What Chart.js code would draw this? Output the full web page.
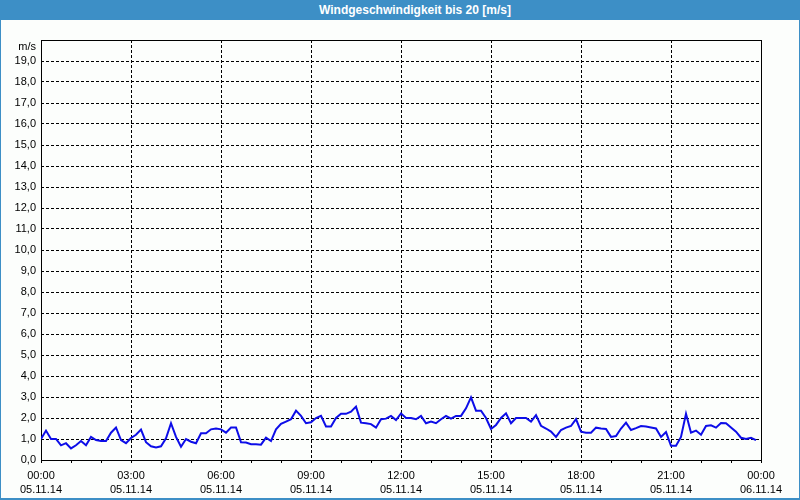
<!DOCTYPE html>
<html>
<head>
<meta charset="utf-8">
<script src="https://cdn.jsdelivr.net/npm/chart.js@4/dist/chart.umd.min.js"></script>
<style>
    body { margin: 0; }
    #rahmen {
        width: 800px; height: 500px; box-sizing: border-box;
        border-left: 1px solid #3d8fc6; border-right: 1px solid #3d8fc6; border-bottom: 2px solid #3d8fc6;
        background: #fcfefc; position: relative;
    }
    #titel {
        height: 20px; margin: 0 -1px; background: #3d8fc6; color: #fff;
        font: bold 12px "Liberation Sans", Arial, sans-serif; line-height: 20px;
        text-align: center; padding-left: 30px;
    }
    canvas { display: block; }
</style>
</head>
<body>
<div id="rahmen">
    <div id="titel">Windgeschwindigkeit bis 20 [m/s]</div>
    <canvas id="grafik" width="798" height="478"></canvas>
</div>
<script>
// Messwerte alle 10 Minuten, ab 05.11.14 00:00 (m/s)
const werte = [
    1.0, 1.4, 1.0, 1.0, 0.7, 0.8, 0.55, 0.7, 0.9, 0.7, 1.1, 0.95, 0.9, 0.9, 1.3, 1.55, 0.95, 0.8, 1.05, 1.2, 1.45, 0.85, 0.65, 0.6,
    0.65, 1.03, 1.75, 1.1, 0.63, 1.0, 0.87, 0.8, 1.27, 1.27, 1.46, 1.5, 1.46, 1.3, 1.55, 1.55, 0.84, 0.83, 0.75, 0.75, 0.73, 1.06, 0.9, 1.46,
    1.72, 1.83, 1.94, 2.35, 2.1, 1.75, 1.8, 2.0, 2.1, 1.6, 1.6, 2.0, 2.2, 2.2, 2.3, 2.54, 1.78, 1.75, 1.71, 1.54, 1.94, 1.97, 2.1, 1.9,
    2.22, 2.0, 2.0, 1.94, 2.1, 1.75, 1.83, 1.75, 1.94, 2.1, 1.97, 2.1, 2.1, 2.46, 2.98, 2.35, 2.35, 2.0, 1.48, 1.67, 2.0, 2.22, 1.75, 2.0,
    2.0, 2.0, 1.83, 2.14, 1.63, 1.5, 1.35, 1.1, 1.43, 1.54, 1.62, 1.95, 1.35, 1.3, 1.3, 1.54, 1.5, 1.48, 1.1, 1.14, 1.5, 1.78, 1.43, 1.52,
    1.62, 1.6, 1.55, 1.5, 1.1, 1.33, 0.68, 0.68, 1.1, 2.2, 1.3, 1.4, 1.2, 1.62, 1.65, 1.54, 1.76, 1.75, 1.55, 1.35, 1.06, 1.0, 1.06, 0.95
];
const intervallMin = 10; // abstand der messwerte in minuten

// beschriftung der x-achse (alle 3 stunden)
const stunden = ['00:00', '03:00', '06:00', '09:00', '12:00', '15:00', '18:00', '21:00', '00:00'];
const datum = ['05.11.14', '05.11.14', '05.11.14', '05.11.14', '05.11.14', '05.11.14', '05.11.14', '05.11.14', '06.11.14'];

const schrift = { family: '"Liberation Sans", Arial, sans-serif', size: 11 };

// rahmen um den plotbereich und einheit oben links
const rahmenPlugin = {
    id: 'rahmenPlugin',
    beforeDatasetsDraw(chart) {
        const { ctx, chartArea: a } = chart;
        ctx.save();
        ctx.strokeStyle = '#000';
        ctx.lineWidth = 1;
        ctx.strokeRect(Math.round(a.left) + 0.5, Math.round(a.top) + 0.5,
            Math.round(a.right - a.left), Math.round(a.bottom - a.top));
        ctx.restore();
    },
    afterDraw(chart) {
        const { ctx, chartArea: a, scales } = chart;
        ctx.save();
        ctx.fillStyle = '#000';
        ctx.font = '11px "Liberation Sans", Arial, sans-serif';
        ctx.textAlign = 'right';
        ctx.textBaseline = 'middle';
        ctx.fillText('m/s', a.left - 5, scales.y.getPixelForValue(20) + 7);
        ctx.restore();
    }
};

const punkte = werte.map((v, i) => ({ x: i * intervallMin, y: v }));

new Chart(document.getElementById('grafik'), {
    type: 'line',
    data: {
        datasets: [{
            data: punkte,
            borderColor: '#0d0de8',
            borderWidth: 2,
            pointRadius: 0,
            tension: 0,
            fill: false
        }]
    },
    options: {
        responsive: false,
        animation: false,
        devicePixelRatio: 1,
        layout: { padding: { top: 20, right: 38, left: 0, bottom: 0 } },
        plugins: { legend: { display: false }, tooltip: { enabled: false } },
        scales: {
            x: {
                type: 'linear',
                min: 0,
                max: 1440,
                afterFit(s) { s.height = 38; s.paddingLeft = 0; s.paddingRight = 0; },
                ticks: {
                    stepSize: 60,
                    autoSkip: false,
                    maxRotation: 0,
                    minRotation: 0,
                    padding: 6,
                    color: '#000',
                    font: { ...schrift, lineHeight: 1.25 },
                    callback: (v) => v % 180 === 0 ? [stunden[v / 180], datum[v / 180]] : ''
                },
                grid: {
                    tickLength: 3,
                    tickColor: '#000',
                    lineWidth: 1,
                    color: (c) => {
                        const v = c.tick ? c.tick.value : 0;
                        return (v % 180 === 0 && v !== 0 && v !== 1440) ? '#000' : 'rgba(0,0,0,0)';
                    }
                },
                border: { display: false, dash: [3, 2] }
            },
            y: {
                min: 0,
                max: 20,
                afterFit(s) { s.width = 40; s.paddingTop = 0; s.paddingBottom = 0; },
                ticks: {
                    stepSize: 1,
                    padding: 5,
                    color: '#000',
                    font: schrift,
                    callback: (v) => v === 20 ? '' : v.toFixed(1).replace('.', ',')
                },
                grid: {
                    drawTicks: false,
                    lineWidth: 1,
                    color: (c) => {
                        const v = c.tick ? c.tick.value : 0;
                        return (v === 0 || v === 20) ? 'rgba(0,0,0,0)' : '#000';
                    }
                },
                border: { display: false, dash: [3, 2] }
            }
        }
    },
    plugins: [rahmenPlugin]
});
</script>
</body>
</html>
